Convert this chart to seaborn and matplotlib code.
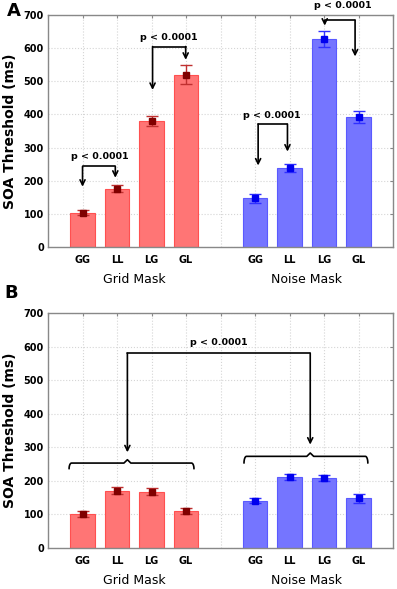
import numpy as np
import pandas as pd
import matplotlib
matplotlib.use('Agg')
import matplotlib.pyplot as plt
import seaborn as sns

# ============ DataSet ============
conditions = ['GG', 'LL', 'LG', 'GL']
masks = ['Grid Mask', 'Noise Mask']
positions = [1, 2, 3, 4, 6, 7, 8, 9]

# Panel A: mean SOA threshold (ms) and error
a_mean = [104, 176, 380, 520, 147, 239, 627, 392]
a_err = [7, 10, 15, 28, 13, 12, 24, 17]
# Panel B
b_mean = [101, 171, 168, 109, 141, 212, 208, 148]
b_err = [10, 10, 10, 9, 8, 9, 9, 13]

# pairwise comparison arrows: (x_from, x_to, line_y, tip_from, tip_to, text_x, text_y)
a_pairs = [
    (1.0, 1.95, 243, 182, 209, 1.5, 273),
    (3.03, 3.99, 605, 474, 565, 3.5, 633),
    (6.09, 6.94, 371, 246, 288, 6.5, 397),
    (8.02, 8.9, 684, 668, 575, 8.55, 728),
]
# group braces in panel B: (x_left, x_right, x_center, brace_y, end_y, peak_y, arrow_tip)
b_braces = [
    (0.61, 4.23, 2.3, 253, 236, 263, 285),
    (5.68, 9.27, 7.6, 273, 253, 283, 308),
]
b_link_y = 580
b_text = (4.95, 612)
p_label = 'p < 0.0001'

# ============ Style ============
sns.set_style('white')
plt.rcParams['font.family'] = 'DejaVu Sans'
plt.rcParams['text.color'] = 'black'
plt.rcParams['axes.labelcolor'] = 'black'
plt.rcParams['xtick.labelcolor'] = 'black'
plt.rcParams['ytick.labelcolor'] = 'black'

fill = {'Grid Mask': '#ff7575', 'Noise Mask': '#7575ff'}
edge = {'Grid Mask': '#ff5050', 'Noise Mask': '#5a5aff'}
dot = {'Grid Mask': '#800000', 'Noise Mask': '#0000ee'}
err_col = {'Grid Mask': '#c03030', 'Noise Mask': '#3030ff'}


def make_df(means, errs):
    return pd.DataFrame({
        'pos': positions,
        'cond': conditions * 2,
        'mask': [masks[0]] * 4 + [masks[1]] * 4,
        'mean': means,
        'err': errs,
    })


def draw_panel(ax, df):
    sns.barplot(data=df, x='pos', y='mean', hue='mask', palette=fill,
                native_scale=True, dodge=False, width=0.7, errorbar=None,
                saturation=1, legend=False, ax=ax, linewidth=0.8, zorder=2)
    for bar in ax.patches:
        x = bar.get_x() + bar.get_width() / 2
        bar.set_edgecolor(edge[masks[0]] if x < 5 else edge[masks[1]])
    for m in masks:
        sub = df[df['mask'] == m]
        ax.errorbar(sub['pos'], sub['mean'], yerr=sub['err'], fmt='s',
                    color=dot[m], ecolor=err_col[m],
                    markersize=4.5, capsize=4, elinewidth=1, capthick=1, zorder=3)
    ax.set_xlim(0, 10)
    ax.set_ylim(0, 700)
    ax.set_yticks(range(0, 701, 100))
    ax.set_xticks(range(0, 11))
    labels = [''] + conditions + [''] + conditions + ['']
    ax.set_xticklabels(labels, fontsize=7, fontweight='bold')
    ax.tick_params(axis='y', labelsize=7)
    for t in ax.get_yticklabels():
        t.set_fontweight('bold')
    ax.tick_params(direction='in', length=2.5, color='#888888', top=True,
                   right=True, pad=3)
    ax.tick_params(axis='x', pad=6)
    ax.grid(True, linestyle=':', color='#d5d5d5', linewidth=0.8)
    ax.set_axisbelow(True)
    for s in ax.spines.values():
        s.set_color('#888888')
        s.set_linewidth(1)
    ax.set_xlabel('')
    ax.set_ylabel('SOA Threshold (ms)', fontsize=10, fontweight='bold', labelpad=5)
    for m, xc in zip(masks, [2.5, 7.5]):
        ax.text(xc, -0.14, m, transform=ax.get_xaxis_transform(),
                ha='center', va='center', fontsize=9)


def arrow(ax, x, y0, y1):
    ax.annotate('', xy=(x, y1), xytext=(x, y0),
                arrowprops=dict(arrowstyle='->', color='black', lw=1.2,
                                shrinkA=0, shrinkB=0, mutation_scale=9))


fig = plt.figure(figsize=(3.97, 5.89), dpi=100)
ax_a = fig.add_axes([0.121, 0.5806, 0.869, 0.3939])
ax_b = fig.add_axes([0.121, 0.0696, 0.869, 0.399])

draw_panel(ax_a, make_df(a_mean, a_err))
draw_panel(ax_b, make_df(b_mean, b_err))

# ============ Annotations A ============
for x1, x2, yl, t1, t2, tx, ty in a_pairs:
    ax_a.plot([x1, x2], [yl, yl], color='black', lw=1.2, clip_on=False)
    arrow(ax_a, x1, yl, t1)
    arrow(ax_a, x2, yl, t2)
    ax_a.text(tx, ty, p_label, ha='center', va='center', fontsize=6.8,
              fontweight='bold', clip_on=False)

# ============ Annotations B ============
for xl, xr, xc, yb, ye, yp, tip in b_braces:
    k = np.linspace(0, np.pi / 2, 8)
    lx = xl + 0.07 * (1 - np.cos(k))
    ly = ye + (yb - ye) * np.sin(k)
    bx = np.concatenate([lx, [xc - 0.1, xc, xc + 0.1], (xr - (lx - xl))[::-1]])
    by = np.concatenate([ly, [yb, yp, yb], ly[::-1]])
    ax_b.plot(bx, by, color='black', lw=1.2)
    arrow(ax_b, xc, b_link_y, tip)
ax_b.plot([b_braces[0][2], b_braces[1][2]], [b_link_y, b_link_y], color='black', lw=1.2)
ax_b.text(b_text[0], b_text[1], p_label, ha='center', va='center', fontsize=6.8,
          fontweight='bold')

fig.text(0.035, 0.982, 'A', fontsize=13, fontweight='bold', ha='center', va='center')
fig.text(0.027, 0.503, 'B', fontsize=13, fontweight='bold', ha='center', va='center')

fig.savefig('out.png', dpi=100)
